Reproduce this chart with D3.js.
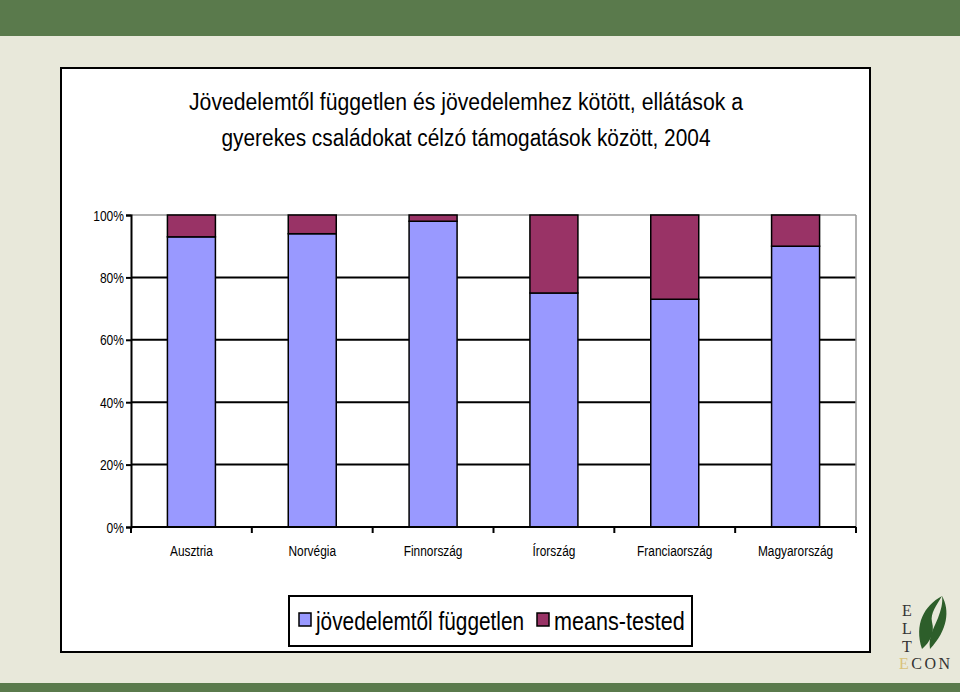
<!DOCTYPE html>
<html>
<head>
<meta charset="utf-8">
<script src="https://cdn.jsdelivr.net/npm/d3@7"></script>
<style>
  body { margin: 0; background: #e8e8da; }
  svg text { font-family: "Liberation Sans", Arial, sans-serif; fill: #000; }
</style>
</head>
<body>
<svg width="960" height="692"></svg>
<script>
// chart values
var countries = ['Ausztria', 'Norvégia', 'Finnország', 'Írország', 'Franciaország', 'Magyarország'];
var independent = [93, 94, 98, 75, 73, 90];
var meansTested = [7, 6, 2, 25, 27, 10];
var seriesNames = ['jövedelemtől független', 'means-tested'];
var seriesColors = ['#9999ff', '#993366'];
var yTicks = [0, 20, 40, 60, 80, 100];
var titleLines = ['Jövedelemtől független és jövedelemhez kötött, ellátások a',
                  'gyerekes családokat célzó támogatások között, 2004'];

var svg = d3.select('svg');

// page frame: green bands and white chart box
svg.append('rect').attr('x', 0).attr('y', 0).attr('width', 960).attr('height', 36).attr('fill', '#5a7a4c');
svg.append('rect').attr('x', 0).attr('y', 683).attr('width', 960).attr('height', 9).attr('fill', '#5a7a4c');
svg.append('rect').attr('x', 61).attr('y', 68).attr('width', 809).attr('height', 584)
    .attr('fill', '#fff').attr('stroke', '#000').attr('stroke-width', 2);

// title (narrow-looking font, so stretch to the measured widths)
var titleW = [554, 489];
svg.append('g').selectAll('text')
    .data(titleLines)
    .enter()
    .append('text')
    .attr('text-anchor', 'middle')
    .attr('font-size', 23)
    .attr('x', 466)
    .attr('y', function(d, i) { return 110 + i * 36; })
    .attr('textLength', function(d, i) { return titleW[i]; })
    .attr('lengthAdjust', 'spacingAndGlyphs')
    .text(function(d) { return d; });

// scales
var x = d3.scaleBand().domain(countries).range([131, 856]).paddingInner(0).paddingOuter(0);
var y = d3.scaleLinear().domain([0, 100]).range([527, 215]);
var barW = 48;

// gridlines
svg.append('g').selectAll('line')
    .data(yTicks.filter(function(d) { return d > 0; }))
    .enter()
    .append('line')
    .attr('x1', 131).attr('x2', 856)
    .attr('y1', function(d) { return y(d); }).attr('y2', function(d) { return y(d); })
    .attr('stroke', function(d) { return d === 100 ? '#999' : '#000'; })
    .attr('stroke-width', function(d) { return d === 100 ? 1.5 : 2; });

// right border of plot area
svg.append('line').attr('x1', 856).attr('x2', 856).attr('y1', y(100)).attr('y2', y(0))
    .attr('stroke', '#999').attr('stroke-width', 1.5);

// stacked bars
var stacked = countries.map(function(c, i) {
    return [
        { c: c, y0: 0, y1: independent[i], s: 0 },
        { c: c, y0: independent[i], y1: independent[i] + meansTested[i], s: 1 }
    ];
});
svg.append('g').selectAll('g')
    .data(stacked)
    .enter()
    .append('g')
    .selectAll('rect')
    .data(function(d) { return d; })
    .enter()
    .append('rect')
    .attr('x', function(d) { return x(d.c) + x.bandwidth() / 2 - barW / 2; })
    .attr('width', barW)
    .attr('y', function(d) { return y(d.y1); })
    .attr('height', function(d) { return y(d.y0) - y(d.y1); })
    .attr('fill', function(d) { return seriesColors[d.s]; })
    .attr('stroke', '#000')
    .attr('stroke-width', 1.5);

// y axis
var yAxis = svg.append('g').attr('transform', 'translate(131,0)')
    .call(d3.axisLeft(y).tickValues(yTicks).tickSize(5).tickFormat(function(d) { return d + '%'; }));
yAxis.select('.domain').attr('stroke', '#000').attr('stroke-width', 2);
yAxis.selectAll('.tick line').attr('stroke-width', 2);
yAxis.selectAll('.tick text')
    .attr('font-size', 14)
    .attr('x', null).attr('dy', null)
    .attr('transform', 'translate(-7,5) scale(0.86,1)')
    .style('font-family', '"Liberation Sans", Arial, sans-serif');

// x axis: ticks between categories
var xAxis = svg.append('g').attr('transform', 'translate(0,527)');
xAxis.append('line').attr('x1', 131).attr('x2', 856).attr('y1', 0).attr('y2', 0)
    .attr('stroke', '#000').attr('stroke-width', 2);
xAxis.selectAll('.xt')
    .data(countries.concat(['end']))
    .enter()
    .append('line')
    .attr('x1', function(d, i) { return 131 + i * x.bandwidth(); })
    .attr('x2', function(d, i) { return 131 + i * x.bandwidth(); })
    .attr('y1', 0).attr('y2', 6)
    .attr('stroke', '#000').attr('stroke-width', 2);
xAxis.selectAll('text')
    .data(countries)
    .enter()
    .append('text')
    .attr('transform', function(d) { return 'translate(' + (x(d) + x.bandwidth() / 2) + ',29) scale(0.82,1)'; })
    .attr('text-anchor', 'middle')
    .attr('font-size', 14.5)
    .text(function(d) { return d; });

// legend
var legend = svg.append('g');
legend.append('rect').attr('x', 289).attr('y', 596).attr('width', 403).attr('height', 50)
    .attr('fill', '#fff').attr('stroke', '#000').attr('stroke-width', 2);
var legX = [299, 537];
var legSx = [0.8, 0.83];
seriesNames.forEach(function(name, i) {
    legend.append('rect').attr('x', legX[i]).attr('y', 613).attr('width', 12).attr('height', 13)
        .attr('fill', seriesColors[i]).attr('stroke', '#000').attr('stroke-width', 1.5);
    legend.append('text')
        .attr('transform', 'translate(' + (legX[i] + 17) + ',630) scale(' + legSx[i] + ',1)')
        .attr('font-size', 26)
        .text(name);
});

// ELTE ECON logo
var logo = svg.append('g');
['E', 'L', 'T'].forEach(function(ch, i) {
    logo.append('text').attr('x', 902).attr('y', 616 + i * 18).attr('font-size', 16)
        .style('font-family', '"Liberation Serif", serif').style('fill', '#333').text(ch);
});
logo.append('text').attr('x', 899).attr('y', 669).attr('font-size', 16)
    .style('font-family', '"Liberation Serif", serif').attr('letter-spacing', 2.5)
    .html('<tspan style="fill:#d9c27a">E</tspan><tspan style="fill:#333">CON</tspan>');
logo.append('path')
    .attr('d', 'M942,596 C924,606 914,624 922,649 C930,642 935,633 932,622 C930,613 937,605 942,596 Z')
    .attr('fill', '#2d5e2a');
logo.append('path')
    .attr('d', 'M942,596 C950,610 948,630 930,649 C928,636 935,626 938,618 C941,610 943,603 942,596 Z')
    .attr('fill', '#2d5e2a');
</script>
</body>
</html>
